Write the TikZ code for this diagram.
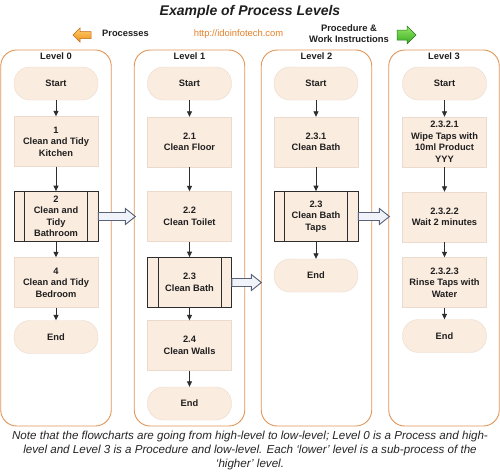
\documentclass[tikz,border=0pt]{standalone}
\usepackage{fontspec}
\setmainfont{Liberation Sans}
\usetikzlibrary{positioning,arrows.meta}

\definecolor{laneorange}{RGB}{226,150,88}
\definecolor{boxfill}{RGB}{251,236,224}
\definecolor{boxline}{RGB}{236,218,204}
\definecolor{darkline}{RGB}{45,45,45}
\definecolor{bigarrowline}{RGB}{88,98,120}
\definecolor{bigarrowfill}{RGB}{240,244,250}
\definecolor{urlorange}{RGB}{228,128,40}
\definecolor{iconorange}{RGB}{238,145,25}
\definecolor{iconorangelight}{RGB}{255,205,110}
\definecolor{iconorangeline}{RGB}{190,105,20}
\definecolor{icongreen}{RGB}{55,170,35}
\definecolor{icongreenlight}{RGB}{150,232,100}
\definecolor{icongreenline}{RGB}{40,120,30}

\begin{document}
\begin{tikzpicture}[x=1pt,y=-1pt,
  every node/.style={font=\fontsize{9.3}{11.5}\selectfont\bfseries, text=black!88},
  lane/.style={draw=laneorange, line width=0.9pt, rounded corners=16pt, minimum width=110.5pt, minimum height=376pt},
  lanetitle/.style={anchor=north, inner sep=3pt},
  terminal/.style={draw=boxline, fill=boxfill, rounded corners=16pt, minimum width=84pt, minimum height=33pt},
  task/.style={draw=boxline, fill=boxfill, minimum width=84pt, minimum height=50pt, align=center},
  subtask/.style={task, draw=darkline, line width=0.8pt,
    path picture={\draw[darkline, line width=0.8pt]
      ([xshift=10.5pt]path picture bounding box.north west) -- ([xshift=10.5pt]path picture bounding box.south west)
      ([xshift=-10.5pt]path picture bounding box.north east) -- ([xshift=-10.5pt]path picture bounding box.south east);}},
  flow/.style={draw=darkline, line width=0.8pt, -{Triangle[length=5.5pt,width=5pt]}},
  bigarrow/.style={draw=bigarrowline, fill=bigarrowfill, line width=0.9pt, line join=miter},
  iconleft/.style={draw=iconorangeline, top color=iconorangelight, bottom color=iconorange, line width=0.5pt},
  iconright/.style={draw=icongreenline, top color=icongreenlight, bottom color=icongreen, line width=0.5pt}
]
\fill[white] (0,0) rectangle (500,471);
\useasboundingbox (0,0) rectangle (500,471);

% heading
\node[font=\fontsize{14}{16}\selectfont\bfseries\itshape] (title) at (250,11.5) {Example of Process Levels};
\node (processes) at (125.5,33.5) {Processes};
\node[font=\fontsize{9.4}{11}\selectfont, text=urlorange] (url) at (238.5,34.5) {http://idoinfotech.com};
\node[align=center, font=\fontsize{9.4}{11}\selectfont\bfseries] (procedure) at (349,33.5) {Procedure \&\\Work Instructions};
\draw[iconleft] (73,35) -- (80,28) -- (80,31.5) -- (91,31.5) -- (91,38.5) -- (80,38.5) -- (80,42) -- cycle;
\draw[iconright] (416,35) -- (407,26) -- (407,30) -- (397,30) -- (397,40) -- (407,40) -- (407,44) -- cycle;

% level 0
\node[lane] (lane0) at (56,238) {};
\node[lanetitle] (title0) at (lane0.north) {Level 0};
\node[terminal] (start0) at (56,83.5) {Start};
\node[task] (kitchen) at (56,141.5) {1\\Clean and Tidy\\Kitchen};
\node[subtask] (bathroom) at (56,216.5) {2\\Clean and\\Tidy\\Bathroom};
\node[task] (bedroom) at (56,282.5) {4\\Clean and Tidy\\Bedroom};
\node[terminal] (end0) at (56,337) {End};
\draw[flow] (start0) -- (kitchen);
\draw[flow] (kitchen) -- (bathroom);
\draw[flow] (bathroom) -- (bedroom);
\draw[flow] (bedroom) -- (end0);

% level 1
\node[lane] (lane1) at (189.5,238) {};
\node[lanetitle] (title1) at (lane1.north) {Level 1};
\node[terminal] (start1) at (189.5,83.5) {Start};
\node[task] (floor) at (189.5,142) {2.1\\Clean Floor};
\node[task] (toilet) at (189.5,216.5) {2.2\\Clean Toilet};
\node[subtask] (bath) at (189.5,282.5) {2.3\\Clean Bath};
\node[task] (walls) at (189.5,345.5) {2.4\\Clean Walls};
\node[terminal] (end1) at (189.5,403.5) {End};
\draw[flow] (start1) -- (floor);
\draw[flow] (floor) -- (toilet);
\draw[flow] (toilet) -- (bath);
\draw[flow] (bath) -- (walls);
\draw[flow] (walls) -- (end1);

% level 2
\node[lane] (lane2) at (316.5,238) {};
\node[lanetitle] (title2) at (lane2.north) {Level 2};
\node[terminal] (start2) at (316,83.5) {Start};
\node[task] (cleanbath) at (316,142) {2.3.1\\Clean Bath};
\node[subtask] (taps) at (316,216.5) {2.3\\Clean Bath\\Taps};
\node[terminal] (end2) at (316,275.5) {End};
\draw[flow] (start2) -- (cleanbath);
\draw[flow] (cleanbath) -- (taps);
\draw[flow] (taps) -- (end2);

% level 3
\node[lane] (lane3) at (444,238) {};
\node[lanetitle] (title3) at (lane3.north) {Level 3};
\node[terminal] (start3) at (444.5,83.5) {Start};
\node[task] (wipe) at (444.5,142) {2.3.2.1\\Wipe Taps with\\10ml Product\\YYY};
\node[task] (wait) at (444.5,217) {2.3.2.2\\Wait 2 minutes};
\node[task] (rinse) at (444.5,282.5) {2.3.2.3\\Rinse Taps with\\Water};
\node[terminal] (end3) at (444.5,336) {End};
\draw[flow] (start3) -- (wipe);
\draw[flow] (wipe) -- (wait);
\draw[flow] (wait) -- (rinse);
\draw[flow] (rinse) -- (end3);

% drill down
\draw[bigarrow] (bathroom.east) ++(0,-4) -- ++(27,0) -- ++(0,-4) -- ++(10,8) -- ++(-10,8) -- ++(0,-4) -- ++(-27,0) -- cycle;
\draw[bigarrow] (bath.east) ++(0,-4) -- ++(19.5,0) -- ++(0,-4) -- ++(10,8) -- ++(-10,8) -- ++(0,-4) -- ++(-19.5,0) -- cycle;
\draw[bigarrow] (taps.east) ++(0,-4) -- ++(21,0) -- ++(0,-4) -- ++(10,8) -- ++(-10,8) -- ++(0,-4) -- ++(-21,0) -- cycle;

% note
\node[font=\fontsize{11.6}{14}\selectfont\itshape, align=center, text=black!85] (note) at (250,450) {Note that the flowcharts are going from high-level to low-level; Level 0 is a Process and high-\\level and Level 3 is a Procedure and low-level. Each `lower' level is a sub-process of the\\`higher' level.};
\end{tikzpicture}
\end{document}
